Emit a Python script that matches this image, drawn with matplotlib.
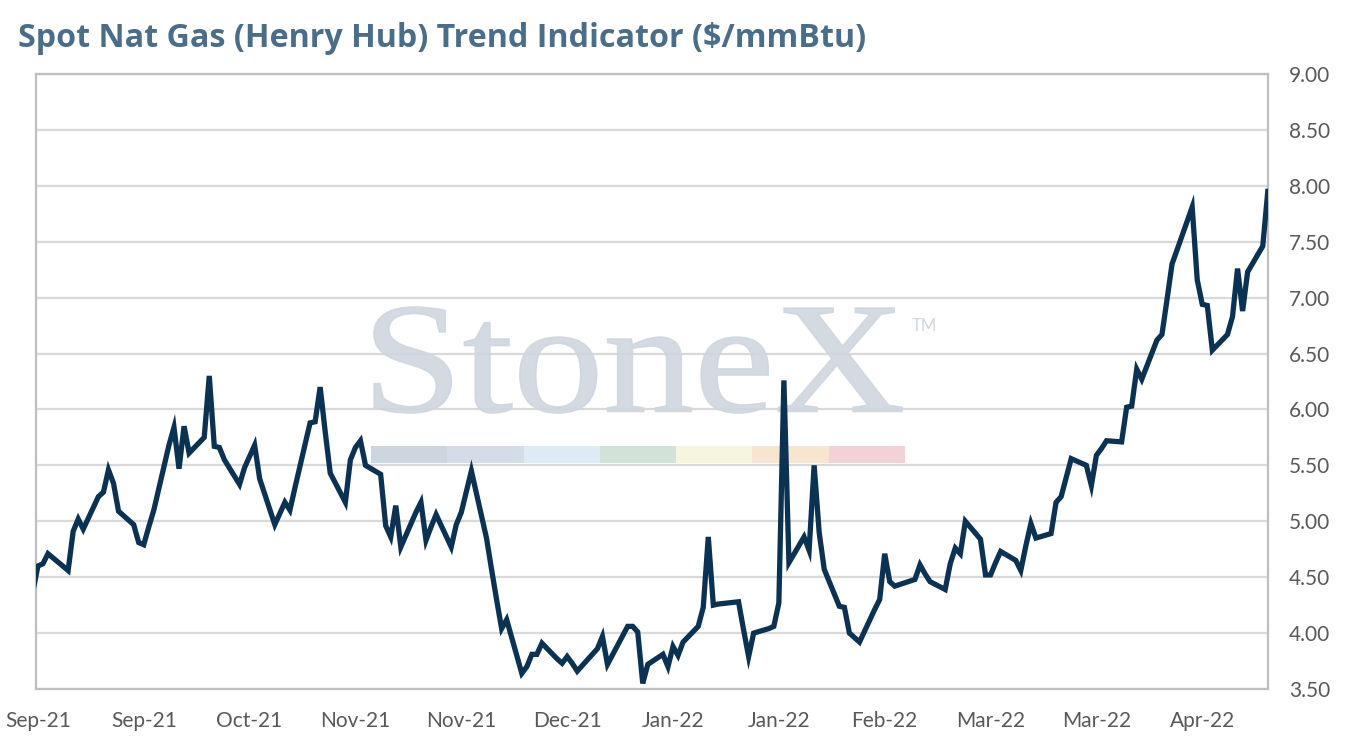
import datetime as dt
import matplotlib
matplotlib.use("Agg")
import matplotlib.pyplot as plt
import matplotlib.dates as mdates
from matplotlib.patches import Rectangle, PathPatch
from matplotlib.textpath import TextPath
from matplotlib.font_manager import FontProperties
from matplotlib.transforms import Affine2D
from matplotlib.ticker import FuncFormatter, MultipleLocator

# trading days (day of month) and front-month settles
aug_days = [31]
aug_vals = [4.37]
sep_days = [1, 2, 3, 7, 8, 9, 10, 13, 14, 15, 16, 17, 20, 21, 22, 23, 24, 27, 28, 29, 30]
sep_vals = [4.60, 4.62, 4.71, 4.56, 4.91, 5.02, 4.93, 5.22, 5.26, 5.46, 5.34, 5.09,
            4.97, 4.81, 4.79, 4.95, 5.10, 5.68, 5.84, 5.47, 5.85]
oct_days = [1, 4, 5, 6, 7, 8, 11, 12, 13, 14, 15, 18, 19, 20, 21, 22, 25, 26, 27, 28, 29]
oct_vals = [5.61, 5.75, 6.30, 5.67, 5.66, 5.55, 5.33, 5.48, 5.58, 5.68, 5.38, 4.97,
            5.07, 5.17, 5.10, 5.30, 5.88, 5.89, 6.20, 5.80, 5.43]
nov_days = [1, 2, 3, 4, 5, 8, 9, 10, 11, 12, 15, 16, 17, 18, 19, 22, 23, 24, 26, 29, 30]
nov_vals = [5.17, 5.55, 5.66, 5.72, 5.50, 5.42, 4.96, 4.86, 5.14, 4.77, 5.08, 5.17,
            4.83, 4.95, 5.06, 4.77, 4.97, 5.08, 5.45, 4.85, 4.57]
dec_days = [1, 2, 3, 6, 7, 8, 9, 10, 13, 14, 15, 16, 17, 20, 21, 22, 23, 27, 28, 29, 30, 31]
dec_vals = [4.30, 4.04, 4.12, 3.64, 3.70, 3.81, 3.81, 3.91, 3.77, 3.73, 3.79, 3.73,
            3.66, 3.81, 3.86, 3.97, 3.72, 4.06, 4.06, 4.01, 3.55, 3.72]
jan_days = [3, 4, 5, 6, 7, 10, 11, 12, 13, 14, 18, 19, 20, 21, 24, 25, 26, 27, 28, 31]
jan_vals = [3.81, 3.70, 3.88, 3.80, 3.92, 4.06, 4.23, 4.86, 4.25, 4.26, 4.28, 4.03,
            3.79, 4.00, 4.04, 4.06, 4.27, 6.26, 4.63, 4.86]
feb_days = [1, 2, 3, 4, 7, 8, 9, 10, 11, 14, 15, 16, 17, 18, 22, 23, 24, 25, 28]
feb_vals = [4.74, 5.50, 4.90, 4.57, 4.24, 4.23, 4.00, 3.96, 3.92, 4.21, 4.30, 4.71,
            4.46, 4.42, 4.48, 4.61, 4.53, 4.46, 4.39]
mar_days = [1, 2, 3, 4, 7, 8, 9, 10, 11, 14, 15, 16, 17, 18, 21, 22, 23, 24, 25, 28, 29, 30, 31]
mar_vals = [4.62, 4.76, 4.71, 5.00, 4.84, 4.52, 4.52, 4.63, 4.73, 4.65, 4.56, 4.78,
            4.98, 4.85, 4.89, 5.17, 5.22, 5.39, 5.56, 5.50, 5.32, 5.59, 5.65]
apr_days = [1, 4, 5, 6, 7, 8, 11, 12, 13, 14, 18, 19, 20, 21, 22, 25, 26, 27, 28, 29]
apr_vals = [5.72, 5.71, 6.02, 6.03, 6.36, 6.27, 6.62, 6.67, 6.98, 7.30, 7.81, 7.16,
            6.94, 6.93, 6.53, 6.67, 6.83, 7.26, 6.88, 7.23]
may_days = [2, 3]
may_vals = [7.46, 7.95]

months = [
    (2021, 8, aug_days, aug_vals), (2021, 9, sep_days, sep_vals),
    (2021, 10, oct_days, oct_vals), (2021, 11, nov_days, nov_vals),
    (2021, 12, dec_days, dec_vals), (2022, 1, jan_days, jan_vals),
    (2022, 2, feb_days, feb_vals), (2022, 3, mar_days, mar_vals),
    (2022, 4, apr_days, apr_vals), (2022, 5, may_days, may_vals),
]
dates, prices = [], []
for yr, mo, days, vals in months:
    for d, v in zip(days, vals):
        dates.append(dt.datetime(yr, mo, d))
        prices.append(v)

title = "Spot Nat Gas (Henry Hub) Trend Indicator ($/mmBtu)"
start = dt.datetime(2021, 9, 1)
tick_dates = [start + dt.timedelta(days=21 * k) for k in range(12)]
bar_colors = ["#cdd5de", "#d3dce7", "#deeaf4", "#d3e2d8", "#f6f5dd", "#f8e5cf", "#f2d2d5"]

W, H = 1349, 750
fig = plt.figure(figsize=(W / 100, H / 100), dpi=100)
plt.rcParams["font.family"] = ["Lato", "DejaVu Sans"]
ax = fig.add_axes([36 / W, 1 - 689 / H, (1268 - 36) / W, (689 - 74) / H])

ax.plot(dates, prices, color="#0b3253", lw=3.8, solid_joinstyle="miter", zorder=4)

ax.set_xlim(start - dt.timedelta(hours=9), dt.datetime(2022, 5, 3, 1))
ax.set_ylim(3.5, 9.0)
ax.yaxis.set_major_locator(MultipleLocator(0.5))
ax.yaxis.set_major_formatter(FuncFormatter(lambda v, p: f"{v:.2f}"))
ax.yaxis.tick_right()
ax.set_xticks(tick_dates)
ax.xaxis.set_major_formatter(mdates.DateFormatter("%b-%y"))
ax.tick_params(axis="both", length=0, labelsize=15, labelcolor="#595959")
ax.tick_params(axis="y", pad=15)
ax.tick_params(axis="x", pad=16)
ax.grid(axis="y", color="#d9d9d9", lw=1.6, zorder=0)
ax.set_axisbelow(True)
for s in ax.spines.values():
    s.set_color("#bfbfbf")
    s.set_linewidth(1.6)

# watermark, stretched to the box it fills in the original
tp = TextPath((0, 0), "StoneX", size=100, prop=FontProperties(family="Liberation Serif"))
bb = tp.get_extents()
box = (374, 307, 902, 413)  # left, top, right, bottom in pixels
tr = (Affine2D().translate(-bb.x0, -bb.y0)
      .scale((box[2] - box[0]) / bb.width / W, (box[3] - box[1]) / bb.height / H)
      .translate(box[0] / W, 1 - box[3] / H))
ax.add_patch(PathPatch(tp, transform=tr + fig.transFigure, facecolor="#cfd6df",
                       edgecolor="#cfd6df", lw=1.2, alpha=0.9, zorder=2))
ax.text(912 / W, 1 - 331 / H, "TM", transform=fig.transFigure, ha="left",
        va="baseline", fontsize=12, color="#cfd6df", zorder=2)
seg = (905 - 371) / len(bar_colors)
for i, c in enumerate(bar_colors):
    ax.add_patch(Rectangle(((371 + i * seg) / W, 1 - 463 / H), seg / W, 17 / H,
                           transform=fig.transFigure, facecolor=c, edgecolor="none",
                           zorder=2))

fig.text(18 / W, 1 - 47 / H, title, fontsize=23.2, fontweight="bold", color="#4a6e89",
         family=["Open Sans", "DejaVu Sans"])

plt.savefig("out.png", dpi=100)
plt.close()
